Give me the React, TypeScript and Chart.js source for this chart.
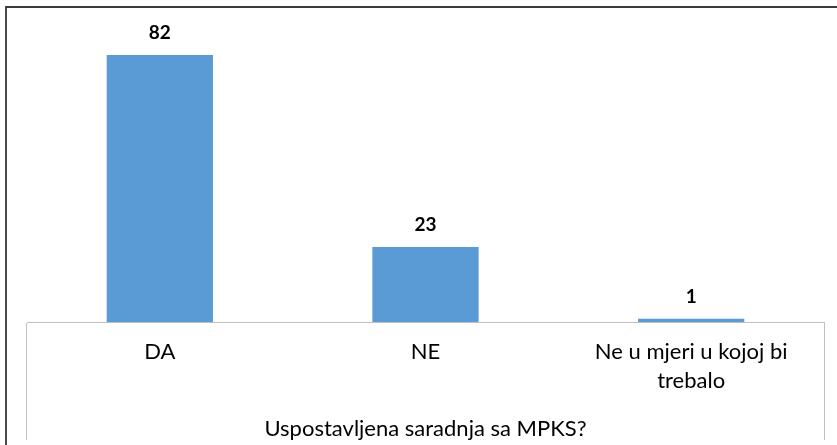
import React, { useEffect, useRef } from "react";
import { Chart, registerables } from "chart.js";

Chart.register(...registerables);

const categories: (string | string[])[] = ["DA", "NE", ["Ne u mjeri u kojoj bi", "trebalo"]];
const values: number[] = [82, 23, 1];
const axisTitle = "Uspostavljena saradnja sa MPKS?";
const yMax = 90;

const FONT = "Lato, 'Open Sans', sans-serif";

const valueLabels = {
  id: "valueLabels",
  afterDatasetsDraw(chart: any) {
    const ctx = chart.ctx;
    const meta = chart.getDatasetMeta(0);
    ctx.save();
    ctx.font = `bold 19px ${FONT}`;
    ctx.fillStyle = "#000000";
    ctx.textAlign = "center";
    ctx.textBaseline = "alphabetic";
    meta.data.forEach((bar: any, i: number) => {
      ctx.fillText(String(values[i]), bar.x, bar.y - 16);
    });
    ctx.restore();
  },
};

export default function App() {
  const ref = useRef<HTMLCanvasElement | null>(null);
  useEffect(() => {
    if (!ref.current) return;
    const chart = new Chart(ref.current, {
      type: "bar",
      data: {
        labels: categories,
        datasets: [
          {
            data: values,
            backgroundColor: "#5B9BD5",
            borderWidth: 0,
            barPercentage: 0.4,
            categoryPercentage: 1,
          },
        ],
      },
      options: {
        animation: false,
        responsive: false,
        maintainAspectRatio: false,
        layout: { padding: { left: 27, right: 13, top: 29, bottom: 0 } },
        plugins: { legend: { display: false }, tooltip: { enabled: false } },
        scales: {
          y: { display: false, min: 0, max: yMax },
          x: {
            afterFit: (scale: any) => {
              scale.height = 123;
            },
            border: { display: true, color: "#BFBFBF", width: 1 },
            grid: {
              display: true,
              drawOnChartArea: false,
              drawTicks: true,
              tickLength: 118,
              offset: true,
              color: (c: any) =>
                c.index === 0 || c.index === undefined ? "#BFBFBF" : "rgba(0,0,0,0)",
            },
            ticks: {
              color: "#000000",
              font: { family: FONT, size: 22, lineHeight: "29px" },
              padding: -103,
              maxRotation: 0,
              autoSkip: false,
            },
            title: {
              display: true,
              text: axisTitle,
              color: "#000000",
              font: { family: FONT, size: 22, lineHeight: "29px" },
              padding: { top: 0, bottom: 1.5 },
            },
          },
        },
      },
      plugins: [valueLabels],
    });
    return () => chart.destroy();
  }, []);

  return (
    <div style={{ position: "fixed", left: 0, top: 0, width: 837, height: 445, background: "#fff", overflow: "hidden" }}>
      <canvas ref={ref} width={837} height={445} style={{ position: "absolute", left: 0, top: 0, width: 837, height: 445 }} />
      <div
        style={{
          position: "absolute",
          left: 5,
          top: 6,
          width: 840,
          height: 450,
          borderTop: "2px solid #3a3a3a",
          borderLeft: "2px solid #4a4a4a",
          boxSizing: "border-box",
          pointerEvents: "none",
        }}
      />
    </div>
  );
}
